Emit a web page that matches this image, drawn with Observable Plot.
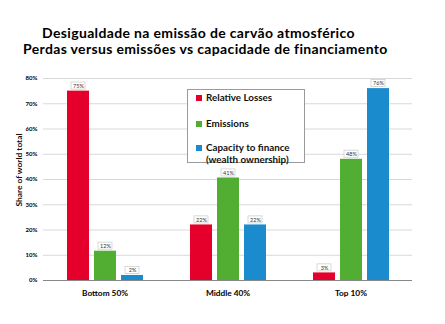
<!DOCTYPE html>
<html>
<head>
<meta charset="utf-8">
<script src="https://cdn.jsdelivr.net/npm/d3@7"></script>
<script src="https://cdn.jsdelivr.net/npm/@observablehq/plot@0.6"></script>
<style>
  body { margin: 0; background: #fff; font-family: Lato, "Open Sans", sans-serif; }
  #wrap { position: relative; width: 445px; height: 324px; overflow: hidden; }
  .t { position: absolute; font-weight: bold; font-size: 14px; color: #000; white-space: nowrap; line-height: 12px; letter-spacing: 0.35px; }
  #legend { position: absolute; left: 187px; top: 89px; width: 118px; height: 74px; border: 1px solid #9a9a9a; background: #fff; box-sizing: border-box; }
  .li { position: absolute; left: 8px; font-weight: bold; font-size: 9.8px; line-height: 12px; white-space: nowrap; color: #111; }
  .sw { display: inline-block; width: 6px; height: 6px; margin-right: 4px; vertical-align: 0px; }
  #chart { position: absolute; left: 0; top: 62px; }
  #ylab { position: absolute; left: 19px; top: 170px; transform: translate(-50%, -50%) rotate(-90deg); font-weight: bold; font-size: 8.4px; color: #111; white-space: nowrap; line-height: 9px; }
</style>
</head>
<body>
<div id="wrap">
  <div class="t" id="t1" style="left:42px; top:27px;"></div>
  <div class="t" id="t2" style="left:23px; top:43px;"></div>
  <div id="chart"></div>
  <div id="ylab"></div>
  <div id="legend"></div>
</div>
<script>
const title1 = "Desigualdade na emissão de carvão atmosférico";
const title2 = "Perdas versus emissões vs capacidade de financiamento";
const groups = ["Bottom 50%", "Middle 40%", "Top 10%"];
const series = ["Relative Losses", "Emissions", "Capacity to finance"];
const seriesLegend = ["Relative Losses", "Emissions", "Capacity to finance\n(wealth ownership)"];
const colors = ["#e4002b", "#52ae32", "#1a8bcd"];
const relativeLosses = [75, 22, 3];
const emissions = [11.6, 40.6, 48];
const capacity = [2, 22, 76];
const labelRelative = ["75%", "22%", "3%"];
const labelEmissions = ["12%", "41%", "48%"];
const labelCapacity = ["2%", "22%", "76%"];
const yTicks = [0, 10, 20, 30, 40, 50, 60, 70, 80];
const yLabel = "Share of world total";

document.getElementById("t1").textContent = title1;
document.getElementById("t2").textContent = title2;
document.getElementById("ylab").textContent = yLabel;

const data = [];
const vals = [relativeLosses, emissions, capacity];
const labs = [labelRelative, labelEmissions, labelCapacity];
groups.forEach((g, gi) => {
  series.forEach((s, si) => {
    data.push({group: g, series: s, value: vals[si][gi], label: labs[si][gi]});
  });
});

const plot = Plot.plot({
  width: 445,
  height: 250,
  marginLeft: 42,
  marginRight: 33,
  marginTop: 16,
  marginBottom: 32,
  style: {fontFamily: "Lato, sans-serif", background: "transparent"},
  fx: {domain: groups, padding: 0, label: null},
  x: {domain: series, paddingInner: 0.2, paddingOuter: 0.84, axis: null},
  y: {domain: [0, 80], ticks: yTicks, label: null},
  color: {domain: series, range: colors},
  marks: [
    Plot.gridY(yTicks, {stroke: "#d8d8d8", strokeOpacity: 1, strokeWidth: 1}),
    Plot.axisY(yTicks, {tickSize: 0, tickPadding: 6, tickFormat: d => d + "%", fontSize: 6, fontWeight: "bold", label: null}),
    Plot.axisFx({anchor: "bottom", tickSize: 0, tickPadding: 10, fontSize: 8.3, fontWeight: "bold", label: null}),
    Plot.barY(data, {fx: "group", x: "series", y: "value", fill: "series"}),
    Plot.barY(data, {fx: "group", x: "series", y1: d => d.value + 0.6, y2: d => d.value + 3.4, insetLeft: 4, insetRight: 4, fill: "#fff", stroke: "#cfcfcf", strokeWidth: 0.8}),
    Plot.text(data, {fx: "group", x: "series", y: d => d.value + 2, text: "label", fontSize: 5.5, fill: "#333"}),
    Plot.ruleY([0], {stroke: "#888", strokeWidth: 1}),
    Plot.ruleX([0], {frameAnchor: "left", stroke: "#aaa", facet: "exclude"})
  ]
});
document.getElementById("chart").appendChild(plot);

const leg = document.getElementById("legend");
const rowTops = [1, 27, 51];
seriesLegend.forEach((s, i) => {
  const lines = s.split("\n");
  const d = document.createElement("div");
  d.className = "li";
  d.style.top = rowTops[i] + "px";
  const sw = document.createElement("span");
  sw.className = "sw";
  sw.style.background = colors[i];
  d.appendChild(sw);
  d.appendChild(document.createTextNode(lines[0]));
  if (lines[1]) {
    const br = document.createElement("div");
    br.style.marginLeft = "10px";
    br.textContent = lines[1];
    d.appendChild(br);
  }
  leg.appendChild(d);
});
</script>
</body>
</html>
